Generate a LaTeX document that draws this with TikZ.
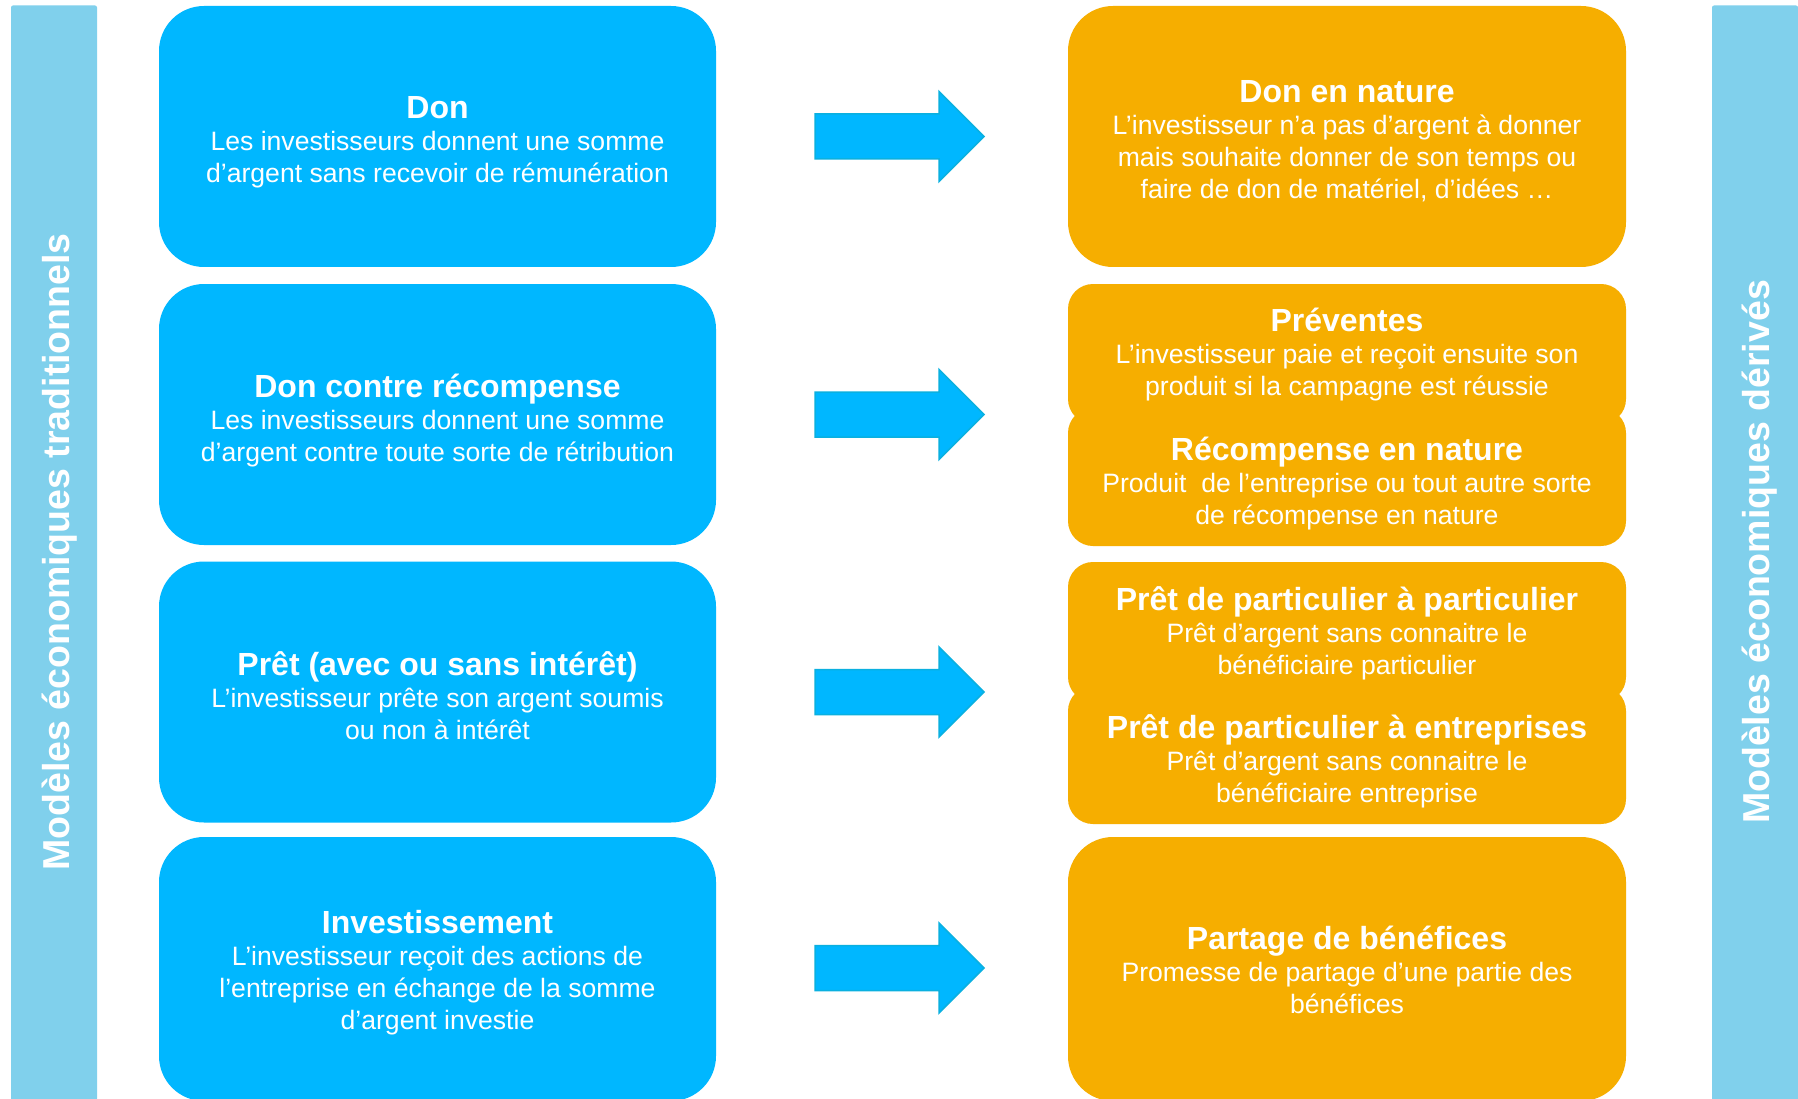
\documentclass[tikz,border=0pt]{standalone}
\usepackage{fontspec}
\setmainfont{Liberation Sans}
\definecolor{boxblue}{RGB}{0,183,255}
\definecolor{boxorange}{RGB}{246,174,0}
\definecolor{barblue}{RGB}{128,208,236}
\definecolor{arrowedge}{RGB}{10,176,224}
\newcommand{\boxtitle}[1]{{\fontsize{32}{32}\selectfont\bfseries #1}\\[0pt]}
\begin{document}
\begin{tikzpicture}[x=1pt,y=-1pt,
  cardtext/.style={text=white, align=center, inner sep=0pt,
    font=\fontsize{26.6}{32}\selectfont},
  bluecard/.style={rectangle, fill=boxblue, rounded corners=45pt,
    minimum width=557pt, minimum height=261pt},
  orangecard/.style={rectangle, fill=boxorange, rounded corners=45pt,
    minimum width=558pt, minimum height=261pt},
  halfcard/.style={rectangle, fill=boxorange, rounded corners=25pt,
    minimum width=558pt},
  sidebar/.style={rectangle, fill=barblue, rounded corners=2pt,
    minimum width=86pt, minimum height=1095pt, inner sep=0pt},
  sidetext/.style={text=white, rotate=90, anchor=base, inner sep=0pt,
    font=\fontsize{37.5}{40}\selectfont\bfseries},
  bigarrow/.style={fill=boxblue, draw=arrowedge, line width=1.5pt, line join=miter}
]
\useasboundingbox (0,0) rectangle (1798,1099);
\fill[white] (0,0) rectangle (1798,1099);

% side bars
\node[sidebar] (lbar) at (54,553) {};
\node[sidebar] (rbar) at (1755,553) {};
\node[sidetext] (ltext) at (69,552) {Modèles économiques traditionnels};
\node[sidetext] (rtext) at (1769,552) {Modèles économiques dérivés};

% blue cards
\node[bluecard] (b1) at (437.5,136.5) {};
\node[bluecard] (b2) at (437.5,414.5) {};
\node[bluecard] (b3) at (437.5,692) {};
\node[bluecard, minimum height=264pt] (b4) at (437.5,969) {};
\node[cardtext, yshift=-6pt] (t1) at (b1.center) {\boxtitle{Don}Les investisseurs donnent une somme\\d’argent sans recevoir de rémunération};
\node[cardtext, yshift=-6pt] (t2) at (b2.center) {\boxtitle{Don contre récompense}Les investisseurs donnent une somme\\d’argent contre toute sorte de rétribution};
\node[cardtext, yshift=-3.6pt] (t3) at (b3.center) {\boxtitle{Prêt (avec ou sans intérêt)}L’investisseur prête son argent soumis\\ou non à intérêt};
\node[cardtext, yshift=-4pt] (t4) at (b4.center) {\boxtitle{Investissement}L’investisseur reçoit des actions de\\l’entreprise en échange de la somme\\d’argent investie};

% orange cards
\node[orangecard] (o1) at (1347,136.5) {};
\node[halfcard, minimum height=140pt] (o2a) at (1347,354) {};
\node[halfcard, minimum height=138pt] (o2b) at (1347,477) {};
\node[halfcard, minimum height=140pt] (o3a) at (1347,632) {};
\node[halfcard, minimum height=138pt] (o3b) at (1347,755) {};
\node[orangecard, minimum height=264pt] (o4) at (1347,969) {};
\node[cardtext, yshift=-4.7pt] (u1) at (o1.center) {\boxtitle{Don en nature}L’investisseur n’a pas d’argent à donner\\mais souhaite donner de son temps ou\\faire de don de matériel, d’idées …};
\node[cardtext, yshift=-0.6pt] (u2) at (o2a.center) {\boxtitle{Préventes}L’investisseur paie et reçoit ensuite son\\produit si la campagne est réussie};
\node[cardtext, yshift=-6.9pt] (u3) at (o2b.center) {\boxtitle{Récompense en nature}Produit~ de l’entreprise ou tout autre sorte\\de récompense en nature};
\node[cardtext, yshift=-1.3pt] (u4) at (o3a.center) {\boxtitle{Prêt de particulier à particulier}Prêt d’argent sans connaitre le\\bénéficiaire particulier};
\node[cardtext, yshift=-6.3pt] (u5) at (o3b.center) {\boxtitle{Prêt de particulier à entreprises}Prêt d’argent sans connaitre le\\bénéficiaire entreprise};
\node[cardtext, yshift=-1.2pt] (u6) at (o4.center) {\boxtitle{Partage de bénéfices}Promesse de partage d’une partie des\\bénéfices};

% arrows
\foreach \yc [count=\i] in {136.5,414.5,692,968}{
  \coordinate (a\i) at (815,\yc);
  \draw[bigarrow] (a\i) ++(0,-22.5) -- ++(124,0) -- ++(0,-22.5) -- ++(45,45)
    -- ++(-45,45) -- ++(0,-22.5) -- ++(-124,0) -- cycle;
}
\end{tikzpicture}
\end{document}
